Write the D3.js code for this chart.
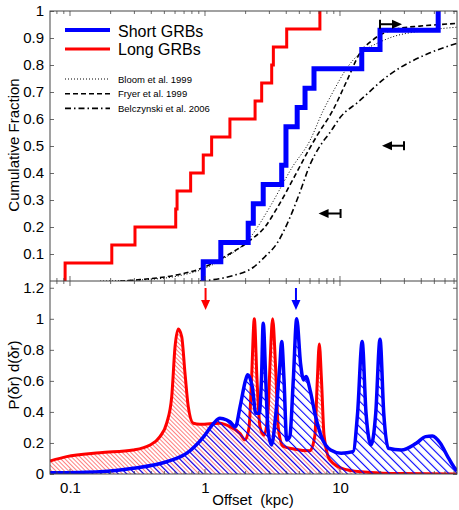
<!DOCTYPE html>
<html>
<head>
<meta charset="utf-8">
<script src="https://cdn.jsdelivr.net/npm/d3@7"></script>
<style>
  body { margin: 0; background: #fff; }
  text { font-family: "Liberation Sans", Arial, Helvetica, sans-serif; fill: #000; }
</style>
</head>
<body>
<svg id="chart" width="459" height="510"></svg>
<script>
// offsets (kpc) of each burst
var longOffsets = [0.092, 0.204, 0.303, 0.607, 0.621, 0.783, 0.971, 1.12, 1.53, 2.35, 2.63, 3.12, 3.21, 4.03, 7.1];
var shortOffsets = [0.971, 1.31, 2.09, 2.28, 2.70, 3.70, 3.98, 3.98, 4.82, 5.51, 6.42, 14.5, 19.8, 53.4];

// model cumulative curves
var bloomOffsets = [0.167, 0.392, 0.653, 0.918, 1.34, 2.15, 3.03, 4.41, 5.99, 7.49, 8.87, 11.3, 14.0, 18.8, 24.8, 39.1, 73.6];
var bloomFrac = [0.0, 0.006, 0.02, 0.04, 0.08, 0.16, 0.275, 0.42, 0.52, 0.63, 0.70, 0.79, 0.843, 0.88, 0.905, 0.925, 0.94];
var fryerOffsets = [0.235, 0.33, 0.653, 0.918, 1.34, 2.15, 2.78, 3.42, 4.64, 5.79, 6.79, 8.87, 11.3, 14.0, 17.5, 22.2, 27.8, 39.1, 73.6];
var fryerFrac = [0.0, 0.005, 0.025, 0.045, 0.085, 0.15, 0.2, 0.27, 0.39, 0.48, 0.54, 0.633, 0.744, 0.843, 0.893, 0.923, 0.936, 0.944, 0.954];
var belczOffsets = [0.918, 1.15, 1.61, 2.27, 2.78, 3.42, 4.26, 5.06, 5.99, 7.11, 8.43, 10.2, 13.4, 23.4, 46.4, 73.6];
var belczFrac = [0.0, 0.005, 0.02, 0.05, 0.09, 0.14, 0.235, 0.33, 0.43, 0.5, 0.55, 0.61, 0.66, 0.765, 0.845, 0.88];

// limits shown as arrows: offset, fraction, direction
var limitOffsets = [19.8, 29.8, 10.1];
var limitFrac = [0.951, 0.501, 0.25];
var limitDir = [1, -1, -1];

// probability distributions
var longPdfX = [0.0711, 0.0945, 0.167, 0.294, 0.392, 0.464, 0.52, 0.567, 0.60, 0.634, 0.672, 0.711, 0.752, 0.819, 0.918, 1.29, 1.53, 1.82, 1.98, 2.12, 2.21, 2.32, 2.43, 2.56, 2.74, 2.93, 3.03, 3.17, 3.33, 3.49, 3.78, 4.64, 5.99, 6.52, 6.79, 7.03, 7.30, 7.62, 8.43, 10.9, 16.7, 27.8, 73.6];
var longPdfY = [0.084, 0.112, 0.137, 0.155, 0.187, 0.241, 0.327, 0.499, 0.82, 0.934, 0.886, 0.65, 0.434, 0.327, 0.32, 0.327, 0.305, 0.26, 0.22, 0.3, 0.6, 1.0, 0.6, 0.3, 0.25, 0.4, 0.7, 1.0, 0.7, 0.3, 0.18, 0.16, 0.15, 0.25, 0.6, 0.837, 0.6, 0.25, 0.09, 0.03, 0.01, 0.003, 0.0];
var shortPdfX = [0.0711, 0.167, 0.294, 0.52, 0.734, 0.979, 1.16, 1.29, 1.45, 1.53, 1.68, 1.82, 2.0, 2.07, 2.24, 2.38, 2.52, 2.62, 2.70, 2.82, 2.93, 3.11, 3.35, 3.58, 3.70, 3.85, 4.03, 4.25, 4.51, 4.78, 5.1, 5.38, 5.6, 6.0, 6.6, 7.28, 8.52, 10.2, 12.5, 13.5, 14.6, 15.6, 17.0, 18.4, 19.8, 21.1, 22.8, 28.5, 36.7, 43.1, 48.4, 55.4, 62.8, 69.6, 73.6];
var shortPdfY = [0.008, 0.015, 0.037, 0.079, 0.134, 0.241, 0.327, 0.359, 0.348, 0.337, 0.305, 0.434, 0.606, 0.639, 0.563, 0.391, 0.391, 0.606, 0.972, 0.606, 0.284, 0.187, 0.391, 0.692, 0.853, 0.606, 0.219, 0.241, 0.606, 1.0, 0.714, 0.606, 0.628, 0.542, 0.37, 0.241, 0.155, 0.134, 0.144, 0.391, 0.853, 0.391, 0.187, 0.391, 0.869, 0.391, 0.166, 0.155, 0.198, 0.241, 0.245, 0.198, 0.112, 0.047, 0.02];

// median arrows in the lower panel
var medianOffsets = [1.01, 4.72];
var medianColors = ['#ff0000', '#0000ff'];

var fracTicks = [0.1, 0.2, 0.3, 0.4, 0.5, 0.6, 0.7, 0.8, 0.9, 1];
var pdfTicks = [0, 0.2, 0.4, 0.6, 0.8, 1, 1.2];
var offsetTicks = [0.1, 1, 10];

var svg = d3.select('#chart');
var L = 50, R = 457, T = 11, M = 281, B = 474;

var x = d3.scaleLog().domain([0.0711, 73.6]).range([L, R]);
var yTop = d3.scaleLinear().domain([0, 1]).range([M, T]);
var yBot = d3.scaleLinear().domain([0, 1.25]).range([B, M - 1]);

var defs = svg.append('defs');
defs.append('clipPath').attr('id', 'clipTop').append('rect')
  .attr('x', L).attr('y', T).attr('width', R - L).attr('height', M - T);
defs.append('clipPath').attr('id', 'clipBot').append('rect')
  .attr('x', L).attr('y', M).attr('width', R - L).attr('height', B - M);

function hatch(id, color, gap, width) {
  var p = defs.append('pattern').attr('id', id)
    .attr('patternUnits', 'userSpaceOnUse')
    .attr('width', gap).attr('height', gap)
    .attr('patternTransform', 'rotate(-45)');
  p.append('line').attr('x1', 0).attr('y1', -1).attr('x2', 0).attr('y2', gap + 1)
    .attr('stroke', color).attr('stroke-width', width);
}
hatch('hatchRed', '#ff0000', 3, 1);
hatch('hatchBlue', '#0000ff', 6, 2.2);

// ---------- top panel ----------
var gTop = svg.append('g').attr('clip-path', 'url(#clipTop)');

function stepPoints(offs) {
  var n = offs.length, pts = [];
  offs.forEach(function (o, i) {
    pts.push([o, i / n]);
    pts.push([o, (i + 1) / n]);
  });
  return pts;
}
var stepLine = d3.line().x(function (d) { return x(d[0]); }).y(function (d) { return yTop(d[1]); });
var smoothLine = d3.line().x(function (d) { return x(d[0]); }).y(function (d) { return yTop(d[1]); })
  .curve(d3.curveMonotoneX);

var models = [
  { xs: bloomOffsets, ys: bloomFrac, dash: '1,2', w: 1 },
  { xs: fryerOffsets, ys: fryerFrac, dash: '5,3', w: 1.6 },
  { xs: belczOffsets, ys: belczFrac, dash: '6,3,1.5,3', w: 1.6 }
];
models.forEach(function (m) {
  gTop.append('path')
    .datum(d3.zip(m.xs, m.ys))
    .attr('d', smoothLine)
    .attr('fill', 'none')
    .attr('stroke', '#000')
    .attr('stroke-width', m.w)
    .attr('stroke-dasharray', m.dash);
});

gTop.append('path').datum(stepPoints(longOffsets)).attr('d', stepLine)
  .attr('fill', 'none').attr('stroke', '#ff0000').attr('stroke-width', 3);
gTop.append('path').datum(stepPoints(shortOffsets)).attr('d', stepLine)
  .attr('fill', 'none').attr('stroke', '#0000ff').attr('stroke-width', 5);

limitOffsets.forEach(function (o, i) {
  var x0 = x(o), y0 = yTop(limitFrac[i]), d = limitDir[i], len = 22;
  var g = svg.append('g');
  g.append('line').attr('x1', x0).attr('x2', x0).attr('y1', y0 - 4.5).attr('y2', y0 + 4.5)
    .attr('stroke', '#000').attr('stroke-width', 2);
  g.append('line').attr('x1', x0).attr('x2', x0 + d * (len - 6)).attr('y1', y0).attr('y2', y0)
    .attr('stroke', '#000').attr('stroke-width', 2);
  g.append('path')
    .attr('d', 'M' + (x0 + d * len) + ',' + y0 + 'L' + (x0 + d * (len - 10)) + ',' + (y0 - 4.5) +
      'L' + (x0 + d * (len - 10)) + ',' + (y0 + 4.5) + 'Z')
    .attr('fill', '#000');
});

// legend
var legend = svg.append('g');
legend.append('line').attr('x1', 65).attr('x2', 110).attr('y1', 30).attr('y2', 30)
  .attr('stroke', '#0000ff').attr('stroke-width', 4);
legend.append('text').attr('x', 118).attr('y', 36.5).attr('font-size', 16).text('Short GRBs');
legend.append('line').attr('x1', 65).attr('x2', 110).attr('y1', 49).attr('y2', 49)
  .attr('stroke', '#ff0000').attr('stroke-width', 3);
legend.append('text').attr('x', 118).attr('y', 55).attr('font-size', 16).text('Long GRBs');
var modelNames = ['Bloom et al. 1999', 'Fryer et al. 1999', 'Belczynski et al. 2006'];
modelNames.forEach(function (name, i) {
  var yy = 79 + i * 14.7;
  legend.append('line').attr('x1', 65).attr('x2', 110).attr('y1', yy).attr('y2', yy)
    .attr('stroke', '#000').attr('stroke-width', models[i].w).attr('stroke-dasharray', models[i].dash);
  legend.append('text').attr('x', 118).attr('y', yy + 3.5).attr('font-size', 9.5).text(name);
});

// ---------- bottom panel ----------
var gBot = svg.append('g').attr('clip-path', 'url(#clipBot)');
var area = d3.area().x(function (d) { return x(d[0]); }).y0(yBot(0)).y1(function (d) { return yBot(d[1]); })
  .curve(d3.curveMonotoneX);
var pdfLine = d3.line().x(function (d) { return x(d[0]); }).y(function (d) { return yBot(d[1]); })
  .curve(d3.curveMonotoneX);

var longPdf = d3.zip(longPdfX, longPdfY), shortPdf = d3.zip(shortPdfX, shortPdfY);
gBot.append('path').datum(longPdf).attr('d', area).attr('fill', 'url(#hatchRed)');
gBot.append('path').datum(longPdf).attr('d', pdfLine)
  .attr('fill', 'none').attr('stroke', '#ff0000').attr('stroke-width', 3);
gBot.append('path').datum(shortPdf).attr('d', area).attr('fill', 'url(#hatchBlue)');
gBot.append('path').datum(shortPdf).attr('d', pdfLine)
  .attr('fill', 'none').attr('stroke', '#0000ff').attr('stroke-width', 3.5);

medianOffsets.forEach(function (o, i) {
  var x0 = x(o);
  svg.append('line').attr('x1', x0).attr('x2', x0).attr('y1', 288).attr('y2', 302)
    .attr('stroke', medianColors[i]).attr('stroke-width', 2);
  svg.append('path')
    .attr('d', 'M' + (x0 - 4.5) + ',300L' + (x0 + 4.5) + ',300L' + x0 + ',310Z')
    .attr('fill', medianColors[i]);
});

// ---------- axes ----------
var minorTicks = x.ticks();
function xTicks(yy, dir) {
  var g = svg.append('g');
  minorTicks.forEach(function (t) {
    var major = offsetTicks.indexOf(t) >= 0;
    var len = major ? 5 : 3;
    g.append('line').attr('x1', x(t)).attr('x2', x(t)).attr('y1', yy).attr('y2', yy + dir * len)
      .attr('stroke', '#444').attr('stroke-width', 0.8);
  });
}
xTicks(T, 1); xTicks(M, -1); xTicks(M, 1); xTicks(B, -1);

var axisTopL = d3.axisLeft(yTop).tickValues(fracTicks).tickSize(-4).tickPadding(6)
  .tickFormat(d3.format('~g'));
var axisTopR = d3.axisRight(yTop).tickValues(fracTicks).tickSize(-4).tickFormat('');
var axisBotL = d3.axisLeft(yBot).tickValues(pdfTicks).tickSize(-4).tickPadding(6)
  .tickFormat(d3.format('~g'));
var axisBotR = d3.axisRight(yBot).tickValues(pdfTicks).tickSize(-4).tickFormat('');
var axisX = d3.axisBottom(x).tickValues(offsetTicks).tickSize(0).tickPadding(8)
  .tickFormat(d3.format('~g'));

[[axisTopL, L], [axisTopR, R], [axisBotL, L], [axisBotR, R]].forEach(function (a) {
  var g = svg.append('g').attr('transform', 'translate(' + a[1] + ',0)').call(a[0]);
  g.select('.domain').remove();
  g.selectAll('line').attr('stroke', '#444').attr('stroke-width', 0.8);
  g.selectAll('text').attr('font-size', 15).attr('font-family', '"Liberation Sans", Arial, sans-serif');
});
var gx = svg.append('g').attr('transform', 'translate(0,' + B + ')').call(axisX);
gx.select('.domain').remove();
gx.selectAll('text').attr('font-size', 15).attr('font-family', '"Liberation Sans", Arial, sans-serif');

svg.append('rect').attr('x', L).attr('y', T).attr('width', R - L).attr('height', B - T)
  .attr('fill', 'none').attr('stroke', '#444').attr('stroke-width', 1);
svg.append('line').attr('x1', L).attr('x2', R).attr('y1', M).attr('y2', M)
  .attr('stroke', '#444').attr('stroke-width', 1);

svg.append('text').attr('transform', 'translate(19,145) rotate(-90)').attr('text-anchor', 'middle')
  .attr('font-size', 15).text('Cumulative Fraction');
svg.append('text').attr('transform', 'translate(19,375) rotate(-90)').attr('text-anchor', 'middle')
  .attr('font-size', 15).text('P(\u03b4r) d(\u03b4r)');
svg.append('text').attr('x', 253).attr('y', 505).attr('text-anchor', 'middle')
  .attr('font-size', 15).attr('xml:space', 'preserve').text('Offset  (kpc)');
</script>
</body>
</html>
